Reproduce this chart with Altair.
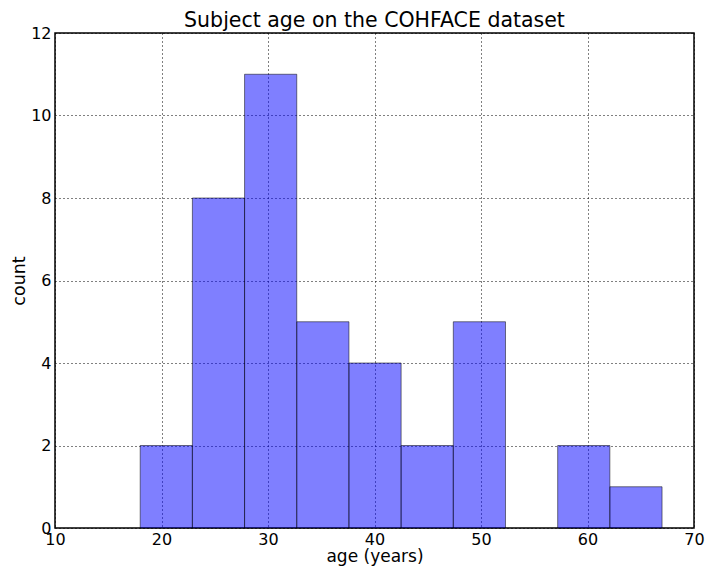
import altair as alt
import pandas as pd

bin_start = [18.0, 22.9, 27.8, 32.7, 37.6, 42.5, 47.4, 52.3, 57.2, 62.1]
bin_end = [22.9, 27.8, 32.7, 37.6, 42.5, 47.4, 52.3, 57.2, 62.1, 67.0]
counts = [2, 8, 11, 5, 4, 2, 5, 0, 2, 1]

df = pd.DataFrame({"start": bin_start, "end": bin_end, "count": counts})
df = df[df["count"] > 0]

FONT = "DejaVu Sans"

bars = alt.Chart(df).mark_rect(
    fill="#0000ff", fillOpacity=0.5, stroke="black", strokeOpacity=0.5, strokeWidth=1
).encode(
    x=alt.X("start:Q", scale=alt.Scale(domain=[10, 70], nice=False),
            axis=alt.Axis(values=[10, 20, 30, 40, 50, 60, 70], title="age (years)",
                          grid=True, gridDash=[1, 3], gridColor="black", gridOpacity=1,
                          ticks=False, labelPadding=3, titlePadding=1,
                          titleFontSize=17,
                          domain=False, labelFlush=False)),
    x2="end:Q",
    y=alt.Y("count:Q", scale=alt.Scale(domain=[0, 12], nice=False),
            axis=alt.Axis(values=[0, 2, 4, 6, 8, 10, 12], title="count",
                          grid=True, gridDash=[1, 3], gridColor="black", gridOpacity=1,
                          ticks=False, labelPadding=4, titlePadding=2,
                          domain=False, labelFlush=False)),
    y2=alt.datum(0),
)

chart = bars.properties(
    width=639, height=495,
    title=alt.Title("Subject age on the COHFACE dataset", fontSize=20.5, font=FONT,
                    fontWeight="normal", color="black", offset=-6),
    autosize=alt.AutoSizeParams(type="none"),
    padding={"left": 47, "top": 25, "right": 11, "bottom": 39},
).configure_view(
    stroke="black", strokeWidth=1.5
).configure_axis(
    labelFont=FONT, titleFont=FONT, labelFontSize=16, titleFontSize=17.5,
    labelColor="black", titleColor="black", titleFontWeight="normal"
)

chart.save("out.html", embed_options={"renderer": "svg", "actions": False})
